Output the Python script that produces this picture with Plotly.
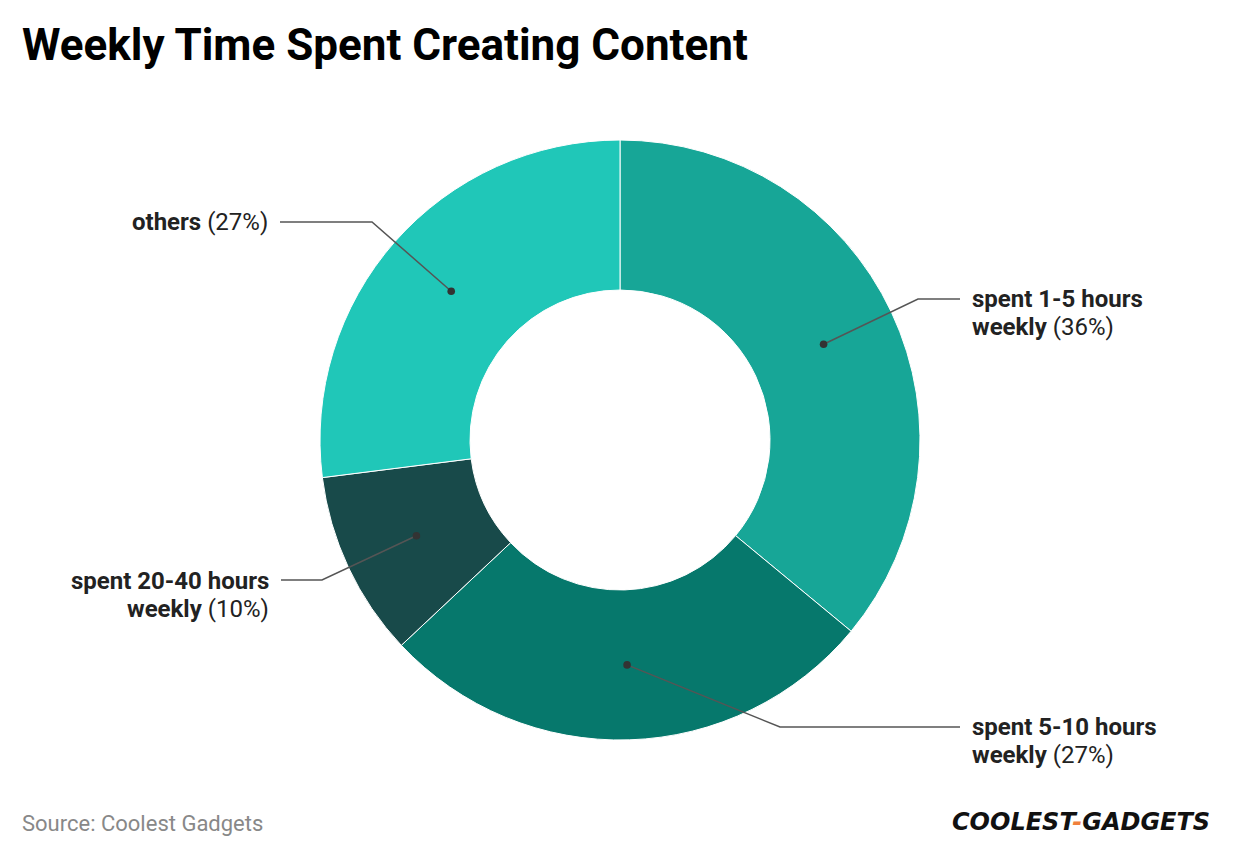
import math
import plotly.graph_objects as go

# ---- data ----
labels = ["spent 1-5 hours weekly", "spent 5-10 hours weekly", "spent 20-40 hours weekly", "others"]
label_lines = [("spent 1-5 hours", "weekly"), ("spent 5-10 hours", "weekly"),
               ("spent 20-40 hours", "weekly"), ("others", "")]
values = [36, 27, 10, 27]
colors = ["#17A697", "#06786C", "#184A4A", "#20C7B8"]

W, H = 1240, 856
# pie domain in pixels
L, R, T, B = 320, 920, 140, 740
CX, CY = (L + R) / 2, (T + B) / 2
R_OUT = (R - L) / 2
HOLE = 0.5
R_MID = R_OUT * (1 + HOLE) / 2

def px(x):
    return (x - L) / (R - L)

def py(y):
    return (B - y) / (B - T)

fig = go.Figure(go.Pie(
    labels=labels, values=values, sort=False, direction="clockwise", rotation=0,
    hole=HOLE, marker=dict(colors=colors, line=dict(color="white", width=1)),
    textinfo="none", hoverinfo="label+percent", showlegend=False,
    domain=dict(x=[0, 1], y=[0, 1]),
))

# label layout: (side, bend_x, bend_y, line_end_x, text_y_first_line)
label_layout = [
    ("right", 918, 299, 960, 299),
    ("right", 780, 727, 960, 727),
    ("left", 322, 580, 281, 581),
    ("left", 372, 222, 280, 222),
]
LINE_GAP = 28
LABEL_FONT = dict(size=24, color="#222222", family="Roboto")

total = sum(values)
cum = 0
shapes = []
annotations = []
for i, v in enumerate(values):
    mid = (cum + v / 2) / total * 2 * math.pi
    cum += v
    dx = CX + R_MID * math.sin(mid)
    dy = CY - R_MID * math.cos(mid)
    side, bx, by, ex, ty = label_layout[i]
    path = f"M {px(dx)},{py(dy)} L {px(bx)},{py(by)} L {px(ex)},{py(by)}"
    shapes.append(dict(type="path", path=path, xref="paper", yref="paper",
                       line=dict(color="#555555", width=1.5)))
    r = 3.8
    shapes.append(dict(type="circle", xref="paper", yref="paper",
                       x0=px(dx - r), x1=px(dx + r), y0=py(dy + r), y1=py(dy - r),
                       fillcolor="#333333", line=dict(color="#333333", width=0)))
    l1, l2 = label_lines[i]
    pct = f"({round(v / total * 100)}%)"
    if l2:
        lines = [f"<b>{l1}</b>", f"<b>{l2}</b> {pct}"]
    else:
        lines = [f"<b>{l1}</b> {pct}"]
    for k, t in enumerate(lines):
        if side == "right":
            ax, anchor = px(ex + 10), "left"
        else:
            ax, anchor = px(ex - 10), "right"
        annotations.append(dict(x=ax, y=py(ty + k * LINE_GAP), xref="paper", yref="paper",
                                text=t, showarrow=False, xanchor=anchor, yanchor="middle",
                                font=LABEL_FONT))

# title, source, logo
annotations.append(dict(x=px(20), y=py(45), xref="paper", yref="paper",
                        text="<b>Weekly Time Spent Creating Content</b>", showarrow=False,
                        xanchor="left", yanchor="middle",
                        font=dict(size=44, color="#000000", family="Roboto")))
annotations.append(dict(x=px(20), y=py(823), xref="paper", yref="paper",
                        text="Source: Coolest Gadgets", showarrow=False,
                        xanchor="left", yanchor="middle",
                        font=dict(size=22, color="#888888", family="Roboto")))
annotations.append(dict(x=px(1212), y=py(822), xref="paper", yref="paper",
                        text="<b><i>COOLEST<span style='color:#F0803C'>-</span>GADGETS</i></b>",
                        showarrow=False, xanchor="right", yanchor="middle",
                        font=dict(size=24, color="#111111", family="DejaVu Sans")))

fig.update_layout(
    width=W, height=H, autosize=False,
    margin=dict(l=L, r=W - R, t=T, b=H - B),
    paper_bgcolor="white", plot_bgcolor="white",
    shapes=shapes, annotations=annotations,
)

fig.write_html("out.html")
